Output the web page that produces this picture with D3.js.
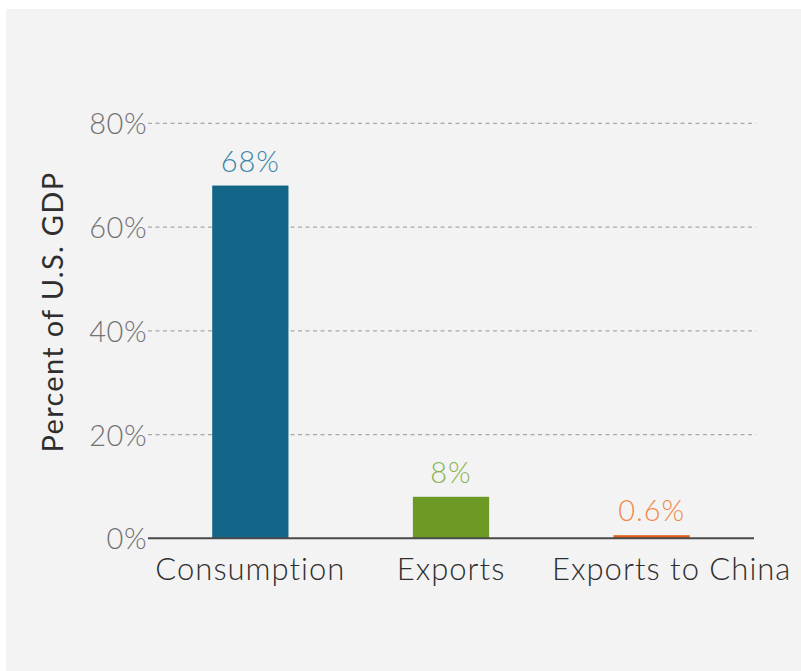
<!DOCTYPE html>
<html>
<head>
<meta charset="utf-8">
<script src="https://cdn.jsdelivr.net/npm/d3@7"></script>
<style>
  html, body { margin: 0; padding: 0; background: #ffffff; }
  svg { display: block; }
  text { font-family: Lato, "Open Sans", sans-serif; }
</style>
</head>
<body>
<svg id="chart" width="801" height="671"></svg>
<script>
// Share of U.S. GDP
const categories = ["Consumption", "Exports", "Exports to China"];
const values = [68, 8, 0.6];
const valueLabels = ["68%", "8%", "0.6%"];
const yTicks = [0, 20, 40, 60, 80];
const yTickLabels = ["0%", "20%", "40%", "60%", "80%"];
const barColors = ["#126586", "#6c9a25", "#e0601a"];
const labelColors = ["#3b87a8", "#8ab556", "#ef8a4c"];

const svg = d3.select("#chart");
const W = 801, H = 671;

// panel background
svg.append("rect").attr("x", 6).attr("y", 9).attr("width", W - 6).attr("height", H - 9)
  .attr("fill", "#f3f3f3");

const x0 = 148, x1 = 754, yTop = 123.3, yBase = 538.3;

const x = d3.scaleBand().domain(categories).range([x0, x1]).paddingInner(0.62).paddingOuter(0.32);
const y = d3.scaleLinear().domain([0, 80]).range([yBase, yTop]);

// dashed gridlines
svg.append("g").selectAll("line").data(yTicks.filter(d => d > 0)).join("line")
  .attr("x1", x0).attr("x2", 756)
  .attr("y1", d => y(d)).attr("y2", d => y(d))
  .attr("stroke", "#a9a9a9").attr("stroke-width", 1.2).attr("stroke-dasharray", "4,3.5");

// y tick labels
const yAxis = d3.axisLeft(y).tickValues(yTicks).tickSize(0).tickPadding(1)
  .tickFormat((d, i) => yTickLabels[i]);
const gy = svg.append("g").attr("transform", `translate(${x0},0)`).call(yAxis);
gy.select(".domain").remove();
gy.selectAll("text").attr("font-size", 29).attr("font-weight", 300).attr("fill", "#727272")
  .attr("letter-spacing", 0.5)
  .attr("font-family", "Lato, sans-serif").attr("dy", "0.36em");

// bars
svg.append("g").selectAll("rect").data(categories).join("rect")
  .attr("x", d => x(d)).attr("width", x.bandwidth())
  .attr("y", (d, i) => y(values[i]))
  .attr("height", (d, i) => yBase - y(values[i]))
  .attr("fill", (d, i) => barColors[i]);

// value labels
svg.append("g").selectAll("text").data(categories).join("text")
  .attr("x", d => x(d) + x.bandwidth() / 2)
  .attr("y", (d, i) => y(values[i]) - 14)
  .attr("text-anchor", "middle")
  .attr("font-size", 29).attr("font-weight", 300).attr("letter-spacing", 1)
  .attr("fill", (d, i) => labelColors[i])
  .text((d, i) => valueLabels[i]);

// baseline axis with category labels
const xAxis = d3.axisBottom(x).tickSize(0).tickPadding(20);
const gx = svg.append("g").attr("transform", `translate(0,${yBase})`).call(xAxis);
gx.select(".domain").attr("stroke", "#4a4a4a").attr("stroke-width", 2).attr("d", `M${x0},0H${x1}`);
gx.selectAll("text").attr("font-size", 31).attr("font-weight", 300).attr("fill", "#2e2e2e")
  .attr("letter-spacing", 1)
  .attr("font-family", "Lato, sans-serif").attr("dy", "0.71em")
  .attr("dx", (d, i) => i === categories.length - 1 ? 20 : 0);

// y-axis title
svg.append("text")
  .attr("transform", "translate(63,312) rotate(-90)")
  .attr("text-anchor", "middle")
  .attr("font-size", 29).attr("font-weight", 400).attr("fill", "#2e2e2e")
  .attr("letter-spacing", 1.3)
  .text("Percent of U.S. GDP");
</script>
</body>
</html>
